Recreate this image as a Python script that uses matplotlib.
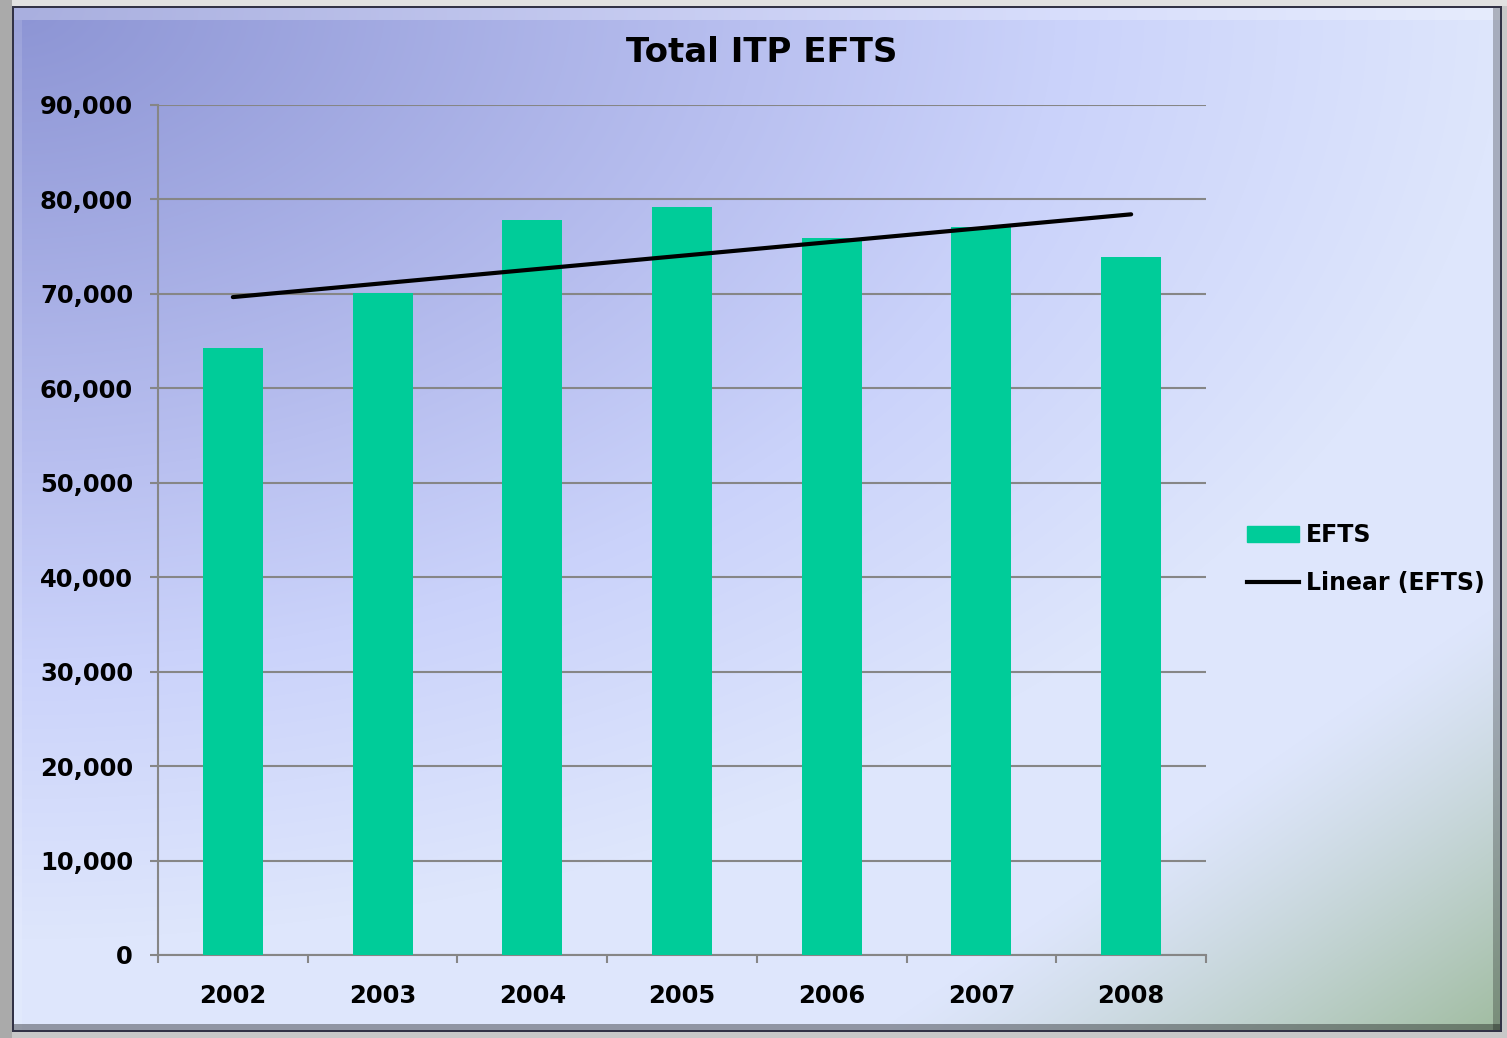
import numpy as np
import matplotlib.pyplot as plt
from matplotlib.patches import Patch
from matplotlib.lines import Line2D

years = ['2002', '2003', '2004', '2005', '2006', '2007', '2008']
efts = [64300, 70100, 77800, 79200, 75900, 77100, 73900]

W, H = 1507, 1038

# background: grey surround, bevelled frame, lavender gradient
yy, xx = np.mgrid[0:H, 0:W].astype(float)
img = np.ones((H, W, 3)) * np.array([200, 200, 200])
x0, x1, y0, y1 = 12, 1502, 6, 1032
u = (xx - x0) / (x1 - x0)
v = (yy - y0) / (y1 - y0)
d = np.sqrt(u ** 2 + (1.1 * v) ** 2)
stops = [0, 0.5, 0.7, 1.0]
cols = np.array([[140, 148, 212], [185, 192, 240], [202, 210, 250], [222, 230, 252]])
grad = np.stack([np.interp(d, stops, cols[:, c]) for c in range(3)], axis=-1)
g = (np.clip((u + v - 1.58) / 0.42, 0, 1) ** 1.2)[..., None]
grad = grad * (1 - g) + np.array([160, 188, 160]) * g
inside = (xx >= x0) & (xx < x1) & (yy >= y0) & (yy < y1)
img[inside] = grad[inside]
# bevels
top = inside & (yy < y0 + 14)
img[top] = img[top] * 0.75 + 255 * 0.25
left = inside & (xx < x0 + 10) & ~top
img[left] = img[left] * 0.88 + 255 * 0.12
right = inside & (xx > x1 - 10)
img[right] = img[right] * 0.75
bottom = inside & (yy > y1 - 9)
img[bottom] = img[bottom] * 0.65
# dark outline
edge = inside & ((xx < x0 + 2) | (yy < y0 + 2) | (xx > x1 - 3) | (yy > y1 - 3))
img[edge] = np.array([50, 50, 70])
img[:y0, :] = [225, 225, 225]
img[:, :x0] = [170, 170, 170]

fig = plt.figure(figsize=(W / 100, H / 100), dpi=100)
bg = fig.add_axes([0, 0, 1, 1])
bg.imshow(img.astype(np.uint8), aspect='auto', interpolation='bilinear')
bg.axis('off')

ax = fig.add_axes([158 / W, 1 - 955 / H, (1206 - 158) / W, (955 - 105) / H])
ax.set_facecolor('none')

x = np.arange(len(years))
ax.bar(x, efts, width=0.4, color='#00CC99', zorder=3, label='EFTS')
coef = np.polyfit(x, efts, 1)
ax.plot([x[0], x[-1]], np.polyval(coef, [x[0], x[-1]]), color='black', lw=3,
        zorder=4, solid_capstyle='round', label='Linear (EFTS)')

ax.set_xlim(-0.5, len(years) - 0.5)
ax.set_ylim(0, 90000)
ax.set_yticks(np.arange(0, 90001, 10000))
ax.set_yticklabels([f'{v:,}' for v in range(0, 90001, 10000)],
                   fontsize=17.5, fontweight='bold')
ax.set_xticks(x)
ax.set_xticklabels(years, fontsize=17.5, fontweight='bold')
ax.set_xticks(np.arange(-0.5, len(years), 1), minor=True)
ax.tick_params(axis='x', which='major', length=0, pad=21)
ax.tick_params(axis='x', which='minor', length=6, color='#868686', width=1.5)
ax.tick_params(axis='y', length=6, color='#868686', width=1.5, pad=12)
ax.grid(axis='y', color='#868686', lw=1.5, zorder=1)
for s in ['top', 'right']:
    ax.spines[s].set_visible(False)
for s in ['left', 'bottom']:
    ax.spines[s].set_color('#868686')
    ax.spines[s].set_linewidth(1.5)

fig.text(762 / W, 1 - 52 / H, 'Total ITP EFTS', fontsize=24.5, fontweight='bold',
         ha='center', va='center')

handles = [Patch(color='#00CC99'), Line2D([], [], color='black', lw=3)]
fig.legend(handles, ['EFTS', 'Linear (EFTS)'], loc='center left',
           bbox_to_anchor=(1226 / W, 1 - 559 / H), frameon=False,
           prop={'size': 17, 'weight': 'bold'}, handlelength=2.2,
           handletextpad=0.3, labelspacing=1.0)

fig.savefig('out.png', dpi=100)
